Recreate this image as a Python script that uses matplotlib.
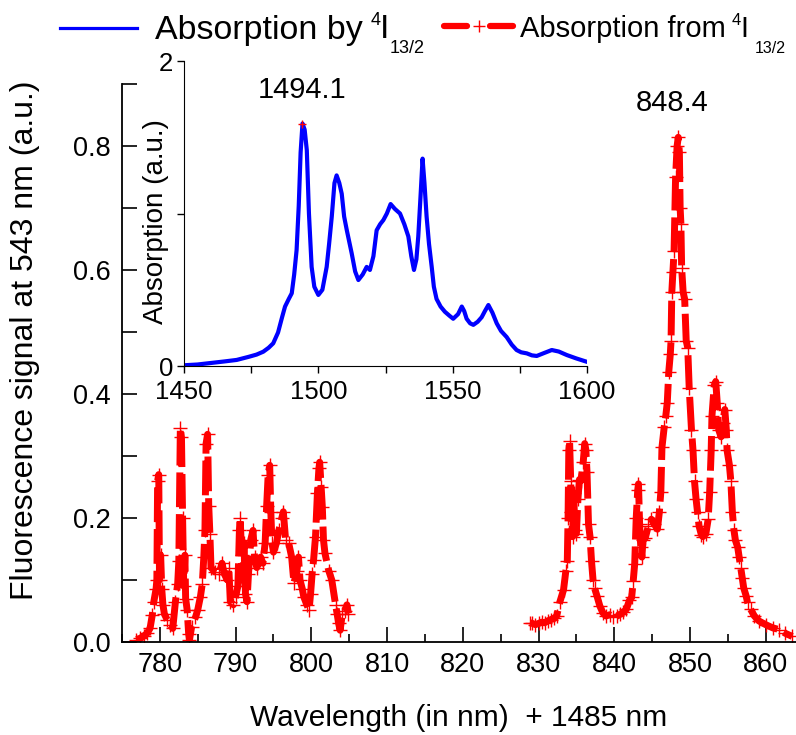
import matplotlib
matplotlib.use("Agg")
import matplotlib.pyplot as plt
from matplotlib.ticker import MultipleLocator
from matplotlib.lines import Line2D

plt.rcParams["font.family"] = ["Liberation Sans", "DejaVu Sans"]

# fluorescence signal at 543 nm (red, main axes), x = wavelength - 1485 nm
fluo_x = [
    776.9, 777.4, 777.9, 778.3, 778.7, 779.0, 779.2, 779.5,
    779.6, 779.7, 779.85, 779.95, 780.1, 780.25, 780.4,
    780.6, 781.0, 781.4, 781.7, 782.05, 782.35,
    782.5, 782.7, 782.85, 783.0, 783.15, 783.3, 783.4,
    783.6, 783.8, 783.9, 784.2, 784.7, 785.0, 785.35, 785.6, 785.8,
    785.95, 786.1, 786.3, 786.45, 786.6, 786.75,
    787.3, 787.8, 788.2, 788.5, 788.9, 789.1, 789.3, 789.7, 790.0, 790.3,
    790.5, 790.6, 790.8, 790.95, 791.1, 791.3, 791.5, 791.7, 792.0, 792.3,
    792.5, 792.8, 793.3, 793.6, 793.9,
    794.1, 794.3, 794.5, 794.65, 794.8, 795.0, 795.4, 795.7, 796.1, 796.3,
    796.6, 797.0, 797.4, 797.7, 798.1, 798.3, 798.5, 798.8, 799.0, 799.4,
    799.7, 799.9, 800.1, 800.3, 800.55, 800.8, 801.0, 801.1, 801.3, 801.45,
    801.6, 801.8, 802.3, 802.7, 803.2, 803.4, 803.6, 803.8, 804.1, 804.4,
    804.7, 804.9,
    None,
    828.9, 829.2, 829.6, 830.0, 830.4, 830.8, 831.2, 831.6, 832.0,
    832.4, 832.8, 833.3, 833.6, 833.8,
    833.9, 834.0, 834.1, 834.25, 834.35, 834.5, 834.65, 834.8, 835.0,
    835.2, 835.4, 835.6, 835.9, 836.1, 836.25, 836.4, 836.6, 836.8,
    837.0, 837.2, 837.4, 837.7, 838.1, 838.5, 838.9, 839.4, 839.9,
    840.4, 840.8, 841.2, 841.6, 842.0, 842.3, 842.5, 842.7,
    842.9, 843.1, 843.2, 843.35, 843.5, 843.65, 843.8, 844.1, 844.5,
    844.9, 845.3, 845.7, 845.95, 846.15, 846.3, 846.6, 846.8, 847.0,
    847.2, 847.4, 847.5, 847.6, 847.75, 847.9,
    848.1, 848.3, 848.45, 848.6, 848.7, 848.8, 848.9, 849.1, 849.3,
    849.5, 849.7, 849.9, 850.2, 850.4, 850.6, 850.8, 851.0, 851.2,
    851.5, 851.7, 852.1, 852.4, 852.6, 852.8, 852.9, 853.2, 853.4,
    853.6, 853.8, 854.1, 854.3, 854.6, 854.8, 854.9, 855.2, 855.4,
    855.6, 855.8, 856.0, 856.3, 856.5, 856.7, 856.9, 857.1, 857.4,
    857.6, 858.0, 858.5, 859.1, 860.0, 860.9, 861.8, 862.6, 863.5,
]
fluo_y = [
    0.004, 0.006, 0.010, 0.014, 0.022, 0.044, 0.065, 0.086,
    0.10, 0.26, 0.27, 0.10, 0.14, 0.085, 0.06,
    0.045, 0.035, 0.028, 0.022, 0.065, 0.094,
    0.13, 0.345, 0.33, 0.20, 0.09, 0.14, 0.07,
    0.052, 0.013, 0.003, 0.025, 0.04, 0.052, 0.073, 0.094, 0.137,
    0.18, 0.32, 0.335, 0.22, 0.175, 0.12,
    0.113, 0.11, 0.127, 0.11, 0.10, 0.12, 0.065, 0.06, 0.073, 0.09,
    0.18, 0.20, 0.14, 0.10, 0.16, 0.078, 0.065, 0.11, 0.165, 0.18,
    0.137, 0.12, 0.137, 0.127, 0.16,
    0.22, 0.27, 0.285, 0.21, 0.16, 0.145, 0.16, 0.18, 0.20, 0.21,
    0.165, 0.16, 0.137, 0.095, 0.115, 0.137, 0.10, 0.086, 0.073, 0.06,
    0.052, 0.078, 0.11, 0.133, 0.17, 0.24, 0.28, 0.29, 0.25, 0.218,
    0.165, 0.143, 0.115, 0.10, 0.06, 0.046, 0.03, 0.019, 0.046, 0.05,
    0.06, 0.046,
    None,
    0.031, 0.030, 0.028, 0.030, 0.032, 0.031, 0.034, 0.036, 0.038,
    0.042, 0.064, 0.084, 0.114, 0.131,
    0.20, 0.31, 0.325, 0.26, 0.21, 0.17, 0.24, 0.18, 0.175,
    0.23, 0.262, 0.26, 0.29, 0.32, 0.31, 0.275, 0.19, 0.17,
    0.13, 0.10, 0.087, 0.075, 0.058, 0.047, 0.042, 0.044, 0.040,
    0.042, 0.045, 0.048, 0.053, 0.067, 0.072, 0.098, 0.126,
    0.20, 0.245, 0.255, 0.19, 0.153, 0.137, 0.165, 0.168, 0.187,
    0.198, 0.19, 0.182, 0.209, 0.242, 0.314, 0.347, 0.364, 0.386,
    0.436, 0.464, 0.486, 0.564, 0.597, 0.631,
    0.75, 0.80, 0.814, 0.79, 0.70, 0.675, 0.603, 0.564, 0.553,
    0.486, 0.475, 0.409, 0.342, 0.309, 0.259, 0.231, 0.209, 0.187,
    0.173, 0.170, 0.175, 0.198, 0.242, 0.309, 0.364, 0.414, 0.42,
    0.386, 0.342, 0.331, 0.353, 0.375, 0.342, 0.309, 0.286, 0.259,
    0.209, 0.181, 0.164, 0.153, 0.137, 0.12, 0.103, 0.087, 0.075,
    0.064, 0.053, 0.042, 0.034, 0.028, 0.023, 0.020, 0.014, 0.009,
]

# 4I13/2 absorption spectrum (blue, inset)
abs_x = [
    1450.0, 1455.0, 1460.0, 1465.0, 1469.6, 1474.0, 1477.0, 1479.5,
    1481.5, 1483.2, 1485.0, 1486.5, 1487.6, 1489.0, 1490.1, 1491.0,
    1491.9, 1492.7, 1493.4, 1494.1, 1494.9, 1495.7, 1496.5, 1497.5,
    1498.5, 1500.0, 1501.5, 1503.1, 1504.0, 1505.0, 1506.0, 1506.8,
    1507.8, 1508.7, 1509.6, 1510.6, 1512.4, 1513.7, 1514.9, 1516.5,
    1518.0, 1519.2, 1520.5, 1521.7, 1523.0, 1524.2, 1525.5, 1526.9,
    1528.5, 1530.4, 1532.0, 1533.5, 1534.6, 1535.6, 1536.5, 1537.2,
    1538.0, 1538.8, 1539.5, 1540.3, 1541.2, 1542.2, 1543.0, 1544.0,
    1545.5, 1547.1, 1548.8, 1550.2, 1552.0, 1553.4, 1554.3, 1555.2,
    1556.5, 1557.7, 1559.3, 1560.8, 1562.0, 1563.3, 1564.8, 1566.4,
    1568.0, 1570.1, 1572.0, 1573.8, 1575.5, 1577.6, 1579.5, 1581.3,
    1584.0, 1586.9, 1589.5, 1592.5, 1596.0, 1599.9,
]
abs_y = [
    0.005, 0.010, 0.020, 0.030, 0.040, 0.060, 0.075, 0.094,
    0.120, 0.149, 0.220, 0.320, 0.390, 0.440, 0.477, 0.600,
    0.760, 1.050, 1.400, 1.590, 1.550, 1.416, 1.000, 0.650,
    0.520, 0.466, 0.500, 0.650, 0.800, 0.980, 1.200, 1.250,
    1.200, 1.130, 0.980, 0.890, 0.740, 0.620, 0.564, 0.600,
    0.650, 0.630, 0.720, 0.890, 0.930, 0.957, 1.000, 1.062,
    1.030, 1.000, 0.930, 0.850, 0.720, 0.630, 0.700, 0.850,
    1.100, 1.360, 1.200, 0.980, 0.800, 0.650, 0.520, 0.440,
    0.390, 0.356, 0.330, 0.310, 0.340, 0.390, 0.360, 0.310,
    0.280, 0.270, 0.290, 0.320, 0.360, 0.400, 0.350, 0.280,
    0.230, 0.190, 0.140, 0.105, 0.090, 0.083, 0.070, 0.066,
    0.085, 0.105, 0.095, 0.072, 0.050, 0.028,
]

peak_main = 848.4
peak_inset = 1494.1

fig = plt.figure(figsize=(7.96, 7.35), dpi=100)

# main axes
ax = fig.add_axes([0.1533, 0.1265, 0.8467, 0.7592])
ax.plot(fluo_x, fluo_y, color="red", lw=5, ls=(0, (5, 1.0)),
        marker="+", ms=10, mew=1.0, mec="red")
ax.set_xlim(775, 864)
ax.set_ylim(0, 0.9)
ax.spines["top"].set_visible(False)
ax.spines["right"].set_visible(False)
ax.spines["left"].set_linewidth(1.3)
ax.spines["bottom"].set_linewidth(1.3)
ax.xaxis.set_major_locator(MultipleLocator(10))
ax.xaxis.set_minor_locator(MultipleLocator(5))
ax.yaxis.set_major_locator(MultipleLocator(0.2))
ax.yaxis.set_minor_locator(MultipleLocator(0.1))
ax.tick_params(which="both", direction="in", width=1.2, labelsize=19.5)
ax.tick_params(axis="x", which="major", length=11, pad=7)
ax.tick_params(axis="x", which="minor", length=6)
ax.tick_params(axis="y", which="both", length=11, pad=8)
ax.set_xlabel("Wavelength (in nm)  + 1485 nm", fontsize=21.5, labelpad=19)
ax.set_ylabel("Fluorescence signal at 543 nm (a.u.)", fontsize=23)
ax.yaxis.set_label_coords(-0.122, 0.541)
ax.text(847.7, 0.869, f"{peak_main:.1f}", fontsize=21, ha="center", va="center")

# inset
ins = fig.add_axes([0.2312, 0.502, 0.5062, 0.415])
ins.set_facecolor("none")
ins.plot(abs_x, abs_y, color="blue", lw=3)
ins.plot([peak_inset], [max(abs_y)], marker="+", color="red", ms=6, mew=1)
ins.set_xlim(1450, 1600)
ins.set_ylim(0, 2)
ins.spines["top"].set_visible(False)
ins.spines["right"].set_visible(False)
ins.xaxis.set_major_locator(MultipleLocator(50))
ins.xaxis.set_minor_locator(MultipleLocator(25))
ins.set_yticks([0, 1, 2])
ins.set_yticklabels(["0", "", "2"])
ins.tick_params(which="both", direction="out", length=5, width=1, labelsize=18.5, pad=3)
ins.tick_params(axis="x", pad=5)
ins.set_ylabel("Absorption (a.u.)", fontsize=20)
ins.yaxis.set_label_coords(-0.037, 0.475)
ins.text(peak_inset, 1.81, f"{peak_inset:.1f}", fontsize=21, ha="center", va="center")

# legend drawn across the top of the figure (pixel positions)
W, H = 796.0, 735.0


def ftext(x, y, s, size):
    fig.text(x / W, 1 - y / H, s, fontsize=size, va="baseline")


fig.add_artist(Line2D([60 / W, 137 / W], [1 - 28 / H, 1 - 28 / H], color="blue", lw=2.3))
ftext(155, 39, "Absorption by", 24.5)
ftext(371, 25, "4", 13)
ftext(380, 38, "I", 24.5)
ftext(390, 53, "13/2", 13)

fig.add_artist(Line2D([444 / W, 467 / W], [1 - 26 / H, 1 - 26 / H], color="red", lw=4.5,
                      solid_capstyle="round"))
fig.add_artist(Line2D([490 / W, 513 / W], [1 - 26 / H, 1 - 26 / H], color="red", lw=4.5,
                      solid_capstyle="round"))
fig.add_artist(Line2D([478.5 / W], [1 - 26 / H], color="red", marker="+", ms=8, mew=1, ls="none"))
ftext(520, 37, "Absorption from", 21)
ftext(732, 25, "4", 12)
ftext(740, 37, "I", 21)
ftext(755, 53, "13/2", 11.5)

fig.savefig("out.png", dpi=100)
